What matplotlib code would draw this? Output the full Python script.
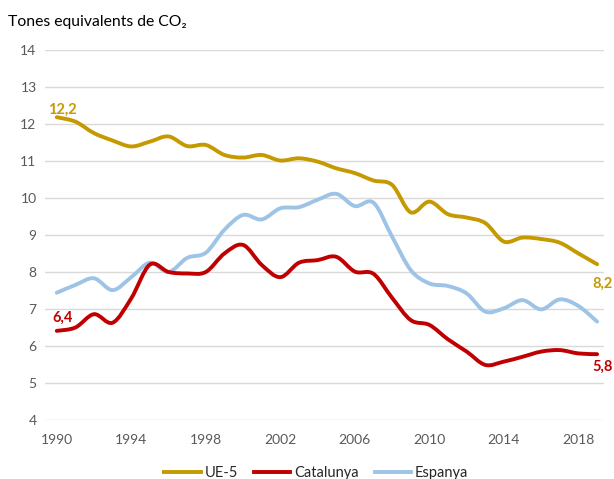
import numpy as np
import matplotlib.pyplot as plt
from matplotlib.path import Path
from matplotlib.patches import PathPatch
from matplotlib.lines import Line2D

plt.rcParams['font.family'] = ['Lato', 'DejaVu Sans']

years = list(range(1990, 2020))
ue5 = [12.18, 12.06, 11.75, 11.55, 11.39, 11.52, 11.66, 11.40, 11.43, 11.16,
       11.09, 11.16, 11.01, 11.07, 10.98, 10.80, 10.67, 10.47, 10.35, 9.61,
       9.90, 9.56, 9.47, 9.32, 8.82, 8.93, 8.89, 8.79, 8.50, 8.21]
catalunya = [6.41, 6.50, 6.86, 6.63, 7.29, 8.20, 8.00, 7.96, 8.00, 8.50,
             8.73, 8.19, 7.86, 8.25, 8.32, 8.41, 8.01, 7.95, 7.30, 6.70,
             6.57, 6.18, 5.85, 5.49, 5.58, 5.71, 5.85, 5.89, 5.80, 5.78]
espanya = [7.44, 7.65, 7.83, 7.51, 7.86, 8.25, 8.00, 8.38, 8.52, 9.14,
           9.54, 9.42, 9.72, 9.75, 9.95, 10.11, 9.78, 9.87, 8.95, 8.05,
           7.69, 7.62, 7.42, 6.93, 7.02, 7.24, 6.99, 7.26, 7.08, 6.66]
xticks = [1990, 1994, 1998, 2002, 2006, 2010, 2014, 2018]

c_ue = '#C49A00'
c_cat = '#C00000'
c_esp = '#9DC3E6'


# Excel-style smoothed line (Bezier through every data point)
def smooth_path(x, y):
    p = np.column_stack([x, y]).astype(float)
    verts = [p[0]]
    codes = [Path.MOVETO]
    n = len(p)
    for i in range(n - 1):
        p0 = p[max(i - 1, 0)]
        p3 = p[min(i + 2, n - 1)]
        c1 = p[i] + (p[i + 1] - p0) / 6.0
        c2 = p[i + 1] - (p3 - p[i]) / 6.0
        verts += [c1, c2, p[i + 1]]
        codes += [Path.CURVE4] * 3
    return Path(verts, codes)


fig = plt.figure(figsize=(6.14, 4.79), dpi=100)
ax = fig.add_axes([0.073, 0.123, 0.911, 0.773])

for vals, col in [(espanya, c_esp), (catalunya, c_cat), (ue5, c_ue)]:
    ax.add_patch(PathPatch(smooth_path(years, vals), fill=False, edgecolor=col,
                           lw=2.8, capstyle='round', joinstyle='round'))

ax.set_xlim(1989.36, 2019.38)
ax.set_ylim(4, 14)
ax.set_yticks(range(4, 15))
ax.set_xticks(xticks)
ax.grid(axis='y', color='#D9D9D9', lw=1)
ax.set_axisbelow(True)
for s in ax.spines.values():
    s.set_visible(False)
ax.tick_params(length=0, labelsize=10, colors='#595959', pad=6)
ax.tick_params(axis='x', pad=10)

# value labels
lbl = dict(fontsize=10.5, fontweight='bold', va='center', clip_on=False)
ax.text(1990.3, 12.38, '12,2', color=c_ue, ha='center', **lbl)
ax.text(1990.3, 6.77, '6,4', color=c_cat, ha='center', **lbl)
ax.text(2018.72, 7.67, '8,2', color=c_ue, ha='left', **lbl)
ax.text(2018.72, 5.43, '5,8', color=c_cat, ha='left', **lbl)

fig.text(0.013, 0.955, 'Tones equivalents de CO\u2082', fontsize=11.3, color='black',
         ha='left', va='center')

handles = [Line2D([], [], color=c_ue, lw=2.8),
           Line2D([], [], color=c_cat, lw=2.8),
           Line2D([], [], color=c_esp, lw=2.8)]
fig.legend(handles, ['UE-5', 'Catalunya', 'Espanya'], loc='center',
           bbox_to_anchor=(0.515, 0.013), ncol=3, frameon=False, fontsize=10.5,
           handlelength=2.5, handletextpad=0.25, columnspacing=1.1,
           labelcolor='#262626')

fig.savefig('out.png', dpi=100)
